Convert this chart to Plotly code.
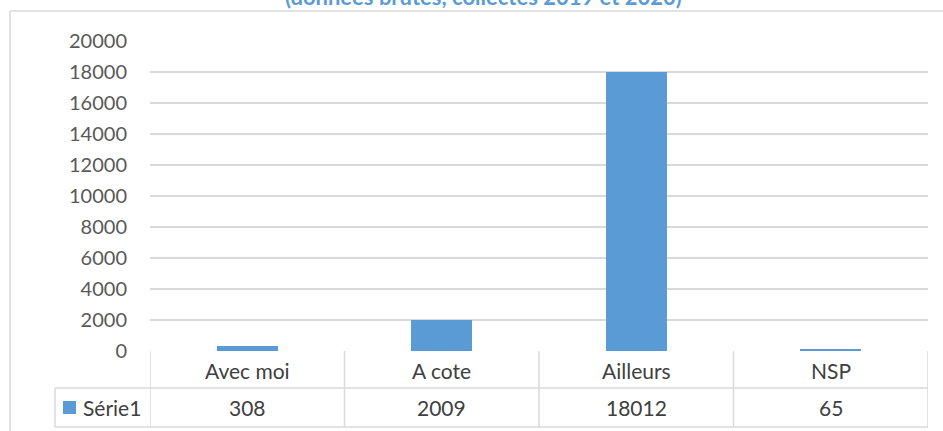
import plotly.graph_objects as go

# Données
categories = ["Avec moi", "A cote", "Ailleurs", "NSP"]
values = [308, 2009, 18012, 65]
series_name = "Série1"
title_text = "(données brutes, collectes 2019 et 2020)"

BAR_COLOR = "#5B9BD5"
GRID_COLOR = "#D9D9D9"
TEXT_COLOR = "#404040"
TICK_COLOR = "#595959"
FONT = "Lato, 'Open Sans', sans-serif"

W, H = 943, 431
L, T, PW, PH = 150, 41, 778, 310
R, B = W - L - PW, H - T - PH


def px_x(p):
    # pixel -> coordonnée paper (horizontal)
    return (p - L) / PW


def px_y(p):
    # pixel -> coordonnée paper (vertical)
    return (T + PH - p) / PH


fig = go.Figure(go.Bar(
    x=categories, y=values, name=series_name,
    marker=dict(color=BAR_COLOR, line=dict(width=0)),
    width=0.315,
))

shapes = []
line = dict(color=GRID_COLOR, width=1.5)

# Tableau de données sous le graphique
y_top, y_mid, y_bot = px_y(352), px_y(388), px_y(427)
for yy in (y_mid, y_bot):
    shapes.append(dict(type="line", xref="paper", yref="paper",
                       x0=px_x(55), x1=1, y0=yy, y1=yy, line=line))
for i in range(len(categories) + 1):
    xv = i - 0.5
    shapes.append(dict(type="line", xref="x", yref="paper",
                       x0=xv, x1=xv, y0=0, y1=y_bot, line=line))
shapes.append(dict(type="line", xref="paper", yref="paper",
                   x0=px_x(55), x1=px_x(55), y0=y_mid, y1=y_bot, line=line))
# carré de légende
shapes.append(dict(type="rect", xref="paper", yref="paper",
                   x0=px_x(63), x1=px_x(76), y0=px_y(414), y1=px_y(401),
                   fillcolor=BAR_COLOR, line=dict(width=0)))
# bordure de la zone de graphique
shapes.append(dict(type="line", xref="paper", yref="paper",
                   x0=px_x(10), x1=px_x(W + 20), y0=px_y(11), y1=px_y(11), line=line))
shapes.append(dict(type="line", xref="paper", yref="paper",
                   x0=px_x(10), x1=px_x(10), y0=px_y(11), y1=px_y(H + 20), line=line))

TABLE_FONT = dict(family=FONT, size=21, color=TEXT_COLOR)
annotations = []
for c, v in zip(categories, values):
    annotations.append(dict(x=c, xref="x", y=px_y(370), yref="paper",
                            yanchor="middle", text=c, showarrow=False,
                            font=TABLE_FONT))
    annotations.append(dict(x=c, xref="x", y=px_y(407), yref="paper",
                            yanchor="middle", text=str(v), showarrow=False,
                            font=TABLE_FONT))
annotations.append(dict(x=px_x(81), xref="paper", xanchor="left",
                        y=px_y(407), yref="paper", yanchor="middle",
                        text=series_name, showarrow=False, font=TABLE_FONT))
# titre (coupé en haut dans l'original)
annotations.append(dict(x=px_x(483), xref="paper", y=px_y(12), yref="paper",
                        yanchor="bottom",
                        text="<b>" + title_text + "</b>", showarrow=False,
                        font=dict(family=FONT, size=22, color=BAR_COLOR)))

fig.update_layout(
    width=W, height=H,
    margin=dict(l=L, r=R, t=T, b=B, autoexpand=False),
    paper_bgcolor="white", plot_bgcolor="white",
    showlegend=False,
    bargap=0,
    shapes=shapes,
    annotations=annotations,
    xaxis=dict(range=[-0.5, 3.5], showticklabels=False, showgrid=False,
               zeroline=False, showline=False, ticks=""),
    yaxis=dict(range=[0, 20000], dtick=2000, tickformat="d", showgrid=True,
               gridcolor=GRID_COLOR, gridwidth=1.5, zeroline=False,
               showline=False, ticks="", ticklabelstandoff=22,
               tickfont=dict(family=FONT, size=20, color=TICK_COLOR)),
)

# supprime la marge par défaut du <body> pour que la figure démarre en (0, 0)
fig.write_html("out.html", config={"displayModeBar": False},
               post_script="document.body.style.margin='0';")
